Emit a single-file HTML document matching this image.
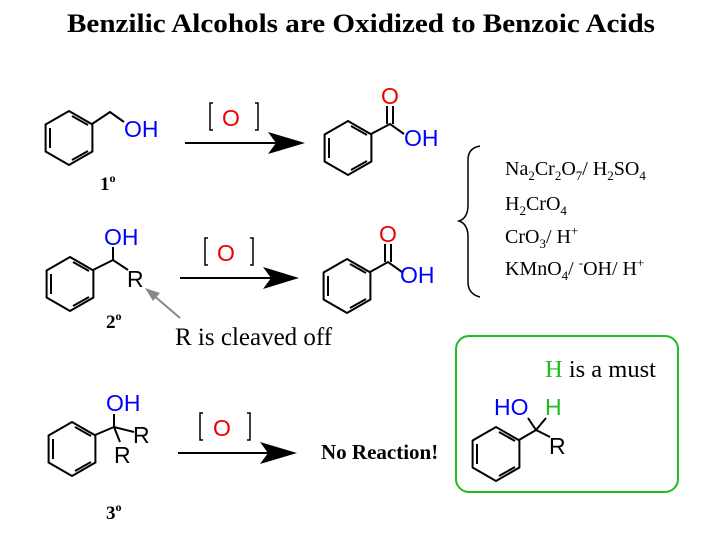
<!DOCTYPE html>
<html><head><meta charset="utf-8"><style>
body{margin:0;background:#fff}
svg{display:block}
.s{font-family:"Liberation Sans",sans-serif;font-size:23px}
.t{font-family:"Liberation Serif",serif}
</style></head><body>
<svg width="711" height="536" viewBox="0 0 711 536" xmlns="http://www.w3.org/2000/svg">
<defs>
<g id="ring" stroke="#000" stroke-width="2" fill="none">
<polygon points="0,-27 23.4,-13.5 23.4,13.5 0,27 -23.4,13.5 -23.4,-13.5"/>
<line x1="-19" y1="-10" x2="-19" y2="10"/>
<line x1="3" y1="-22" x2="19" y2="-13"/>
<line x1="3" y1="22" x2="19" y2="13"/>
</g>
</defs>
<text x="67" y="32" class="t" font-size="26" font-weight="bold" textLength="588" lengthAdjust="spacingAndGlyphs">Benzilic Alcohols are Oxidized to Benzoic Acids</text>

<!-- row 1 -->
<use href="#ring" x="69" y="138"/>
<polyline points="92,124 110,112 124,122" stroke="#000" stroke-width="2" fill="none"/>
<text x="124" y="137" class="s" fill="#00f">OH</text>
<text x="100" y="190" class="t" font-size="19" font-weight="bold">1<tspan dy="-8" font-size="12">o</tspan></text>
<line x1="185" y1="143" x2="280" y2="143" stroke="#000" stroke-width="2"/>
<path d="M268,132 L305,143 L268,154 L276,143z"/>
<path d="M213,103 L210,103 L210,130 L213,130 M255,103 L258,103 L258,130 L255,130" stroke="#000" stroke-width="1.5" fill="none"/>
<text x="222" y="126" class="s" fill="#e00">O</text>
<use href="#ring" x="348" y="148"/>
<polyline points="371,134 390,124 404,134" stroke="#000" stroke-width="2" fill="none"/>
<line x1="387" y1="124" x2="387" y2="106" stroke="#000" stroke-width="2"/>
<line x1="393" y1="124" x2="393" y2="106" stroke="#000" stroke-width="2"/>
<text x="381" y="104" class="s" fill="#e00">O</text>
<text x="404" y="146" class="s" fill="#00f">OH</text>

<!-- row 2 -->
<use href="#ring" x="70" y="284"/>
<polyline points="93,270 113,260 128,270" stroke="#000" stroke-width="2" fill="none"/>
<line x1="113" y1="260" x2="113" y2="247" stroke="#000" stroke-width="2"/>
<text x="104" y="245" class="s" fill="#00f">OH</text>
<text x="127" y="287" class="s">R</text>
<text x="106" y="328" class="t" font-size="19" font-weight="bold">2<tspan dy="-8" font-size="12">o</tspan></text>
<line x1="180" y1="278" x2="275" y2="278" stroke="#000" stroke-width="2"/>
<path d="M263,267 L299,278 L263,289 L271,278z"/>
<path d="M208,238 L205,238 L205,265 L208,265 M250,238 L253,238 L253,265 L250,265" stroke="#000" stroke-width="1.5" fill="none"/>
<text x="217" y="261" class="s" fill="#e00">O</text>
<use href="#ring" x="347" y="286"/>
<polyline points="370,272 388,262 402,272" stroke="#000" stroke-width="2" fill="none"/>
<line x1="385" y1="262" x2="385" y2="244" stroke="#000" stroke-width="2"/>
<line x1="391" y1="262" x2="391" y2="244" stroke="#000" stroke-width="2"/>
<text x="379" y="242" class="s" fill="#e00">O</text>
<text x="400" y="283" class="s" fill="#00f">OH</text>
<line x1="180" y1="318" x2="152" y2="294" stroke="#888" stroke-width="2"/>
<path d="M145,288 L160,293 L153,301z" fill="#888"/>
<text x="175" y="345" class="t" font-size="25">R is cleaved off</text>

<!-- brace & reagents -->
<path d="M480,146 Q468,148 468,160 L468,205 Q468,218 459,221 Q468,224 468,237 L468,282 Q468,294 480,297" stroke="#000" stroke-width="1.5" fill="none"/>
<g class="t" font-size="20">
<text x="505" y="175">Na<tspan dy="5" font-size="13">2</tspan><tspan dy="-5">Cr</tspan><tspan dy="5" font-size="13">2</tspan><tspan dy="-5">O</tspan><tspan dy="5" font-size="13">7</tspan><tspan dy="-5">/ H</tspan><tspan dy="5" font-size="13">2</tspan><tspan dy="-5">SO</tspan><tspan dy="5" font-size="13">4</tspan></text>
<text x="505" y="210">H<tspan dy="5" font-size="13">2</tspan><tspan dy="-5">CrO</tspan><tspan dy="5" font-size="13">4</tspan></text>
<text x="505" y="243">CrO<tspan dy="5" font-size="13">3</tspan><tspan dy="-5">/ H</tspan><tspan dy="-8" font-size="13">+</tspan></text>
<text x="505" y="275">KMnO<tspan dy="5" font-size="13">4</tspan><tspan dy="-5">/ </tspan><tspan dy="-8" font-size="13">-</tspan><tspan dy="8">OH/ H</tspan><tspan dy="-8" font-size="13">+</tspan></text>
</g>

<!-- row 3 -->
<use href="#ring" x="72" y="449"/>
<polyline points="95,435 114,427 134,432" stroke="#000" stroke-width="2" fill="none"/>
<line x1="114" y1="427" x2="114" y2="414" stroke="#000" stroke-width="2"/>
<line x1="114" y1="427" x2="120" y2="442" stroke="#000" stroke-width="2"/>
<text x="106" y="411" class="s" fill="#00f">OH</text>
<text x="133" y="443" class="s">R</text>
<text x="114" y="463" class="s">R</text>
<text x="106" y="519" class="t" font-size="19" font-weight="bold">3<tspan dy="-8" font-size="12">o</tspan></text>
<line x1="178" y1="453" x2="272" y2="453" stroke="#000" stroke-width="2"/>
<path d="M260,442 L297,453 L260,464 L268,453z"/>
<path d="M203,413 L200,413 L200,440 L203,440 M247,413 L250,413 L250,440 L247,440" stroke="#000" stroke-width="1.5" fill="none"/>
<text x="213" y="436" class="s" fill="#e00">O</text>
<text x="321" y="459" class="t" font-size="21" font-weight="bold">No Reaction!</text>

<!-- box -->
<rect x="456" y="336" width="222" height="156" rx="13" fill="none" stroke="#22bb22" stroke-width="2"/>
<text x="545" y="377" class="t" font-size="24.5"><tspan fill="#22bb22">H</tspan> is a must</text>
<use href="#ring" x="496" y="454"/>
<polyline points="519,440 536,430 550,437" stroke="#000" stroke-width="2" fill="none"/>
<line x1="536" y1="430" x2="528" y2="418" stroke="#000" stroke-width="2"/>
<line x1="536" y1="430" x2="546" y2="418" stroke="#000" stroke-width="2"/>
<text x="494" y="415" class="s" fill="#00f">HO</text>
<text x="545" y="415" class="s" fill="#22bb22">H</text>
<text x="549" y="454" class="s">R</text>
</svg>
</body></html>
